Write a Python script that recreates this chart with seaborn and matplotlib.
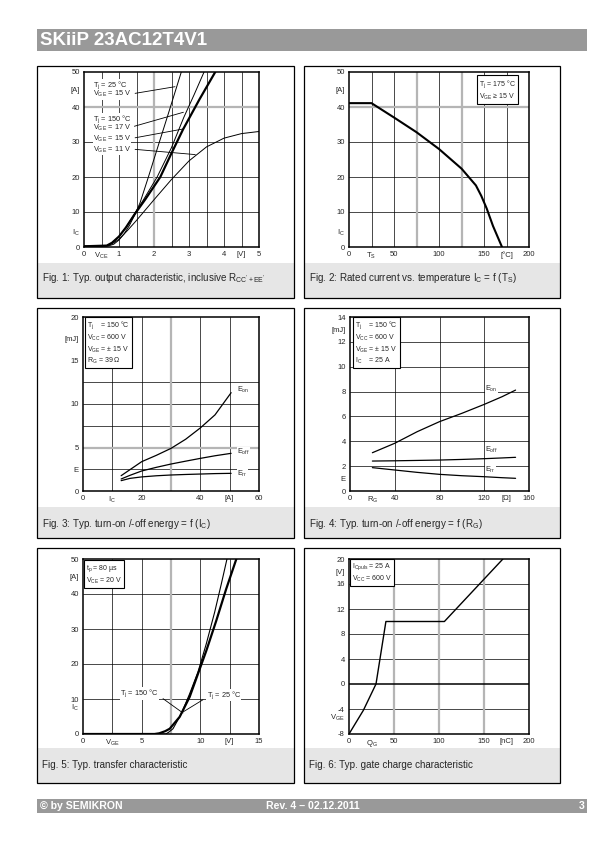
import matplotlib
matplotlib.use("Agg")
import matplotlib.pyplot as plt
from matplotlib.patches import Rectangle
import seaborn as sns

sns.set_style("white")
plt.rcParams['font.family'] = ['Liberation Sans', 'DejaVu Sans']
plt.rcParams['mathtext.fontset'] = 'custom'
plt.rcParams['mathtext.rm'] = 'Liberation Sans'
plt.rcParams['mathtext.it'] = 'Liberation Sans:italic'
plt.rcParams['mathtext.default'] = 'regular'

# Fig 1: output characteristic (V_CE [V] vs I_C [A])
v25_15 = [0, 0.7, 0.85, 1.0, 1.15, 1.3, 1.45, 1.6, 1.84, 2.1, 2.4, 2.78]
i25_15 = [0.2, 0.3, 0.8, 2.0, 3.8, 6.2, 9.2, 12.6, 20.0, 28.3, 37.8, 50]
v150_17 = [0, 0.65, 0.8, 1.0, 1.2, 1.45, 1.7, 2.09, 2.5, 2.85, 3.15, 3.43]
i150_17 = [0.2, 0.4, 1.2, 3.0, 5.6, 9.6, 13.5, 20.0, 28.4, 37.0, 43.6, 50]
v150_15 = [0, 0.65, 0.8, 1.0, 1.2, 1.45, 1.75, 2.18, 2.5, 2.83, 3.3, 3.75]
i150_15 = [0.2, 0.4, 1.2, 3.0, 5.6, 9.4, 13.6, 20.0, 26.8, 33.6, 42.2, 50]
v150_11 = [0, 0.65, 0.8, 1.0, 1.25, 1.5, 2.0, 2.5, 3.0, 3.5, 4.0, 4.5, 5.0]
i150_11 = [0.2, 0.4, 0.9, 2.2, 4.8, 7.6, 13.5, 19.3, 24.6, 28.6, 31.1, 32.4, 33.0]

# Fig 2: rated current vs. temperature
ts = [0, 25, 50, 75, 100, 125, 135, 141, 147, 153, 160, 170]
ic_ts = [41.1, 41.1, 37.0, 32.8, 28.0, 22.4, 19.4, 17.6, 14.6, 11.0, 6.0, 0]

# Fig 3: switching energy vs I_C
ic3 = [13, 16, 20, 25, 30, 35, 40, 45, 50.5]
eon3 = [1.76, 2.45, 3.37, 4.1, 4.9, 5.95, 7.25, 8.75, 11.3]
eoff3 = [1.38, 1.8, 2.3, 2.72, 3.1, 3.43, 3.75, 4.05, 4.33]
err3 = [1.19, 1.45, 1.62, 1.75, 1.84, 1.9, 1.95, 2.0, 2.03]

# Fig 4: switching energy vs R_G
rg4 = [20, 40, 60, 80, 100, 120, 136, 148]
eon4 = [3.08, 3.84, 4.77, 5.58, 6.25, 6.97, 7.59, 8.12]
eoff4 = [2.41, 2.43, 2.46, 2.49, 2.54, 2.6, 2.66, 2.71]
err4 = [1.88, 1.69, 1.5, 1.34, 1.23, 1.15, 1.07, 1.02]

# Fig 5: transfer characteristic
vge150 = [0, 6.1, 6.5, 7.0, 7.39, 8.24, 9.09, 9.8, 10.51, 11.36, 12.2, 13.07]
ic150 = [0, 0, 0.2, 0.8, 1.5, 4.9, 10.6, 17.2, 23.8, 32.4, 41.4, 50]
vge25 = [0, 7.05, 7.3, 7.67, 8.38, 9.09, 9.8, 10.51, 11.22, 11.79, 12.27]
ic25 = [0, 0, 0.5, 1.5, 5.8, 11.5, 17.7, 25.8, 34.8, 42.9, 50]

# Fig 6: gate charge
qg = [0, 16, 30, 41, 106, 171]
vg = [-8, -4.2, 0, 10, 10, 20]

captions = [
    "Fig. 1: Typ. output characteristic, inclusive R$_{CC'+ EE'}$",
    "Fig. 2: Rated current vs. temperature I$_C$ = f (T$_S$)",
    "Fig. 3: Typ. turn-on /-off energy = f (I$_C$)",
    "Fig. 4: Typ. turn-on /-off energy = f (R$_G$)",
    "Fig. 5: Typ. transfer characteristic",
    "Fig. 6: Typ. gate charge characteristic",
]

W, H = 595, 842
fig = plt.figure(figsize=(W / 100, H / 100), dpi=100)


def box(x0, y0, x1, y1):
    return [x0 / W, 1 - y1 / H, (x1 - x0) / W, (y1 - y0) / H]


def rect(x0, y0, x1, y1, **kw):
    fig.add_artist(Rectangle((x0 / W, 1 - y1 / H), (x1 - x0) / W, (y1 - y0) / H,
                             transform=fig.transFigure, **kw))


def ftext(x, y, s, **kw):
    fig.text(x / W, 1 - y / H, s, **kw)


# header / footer
rect(37, 29, 587, 51, color='#999999', lw=0)
ftext(40, 40.5, "SKiiP 23AC12T4V1", color='white', fontsize=13.5, fontweight='bold', va='center')
rect(37, 799, 587, 813, color='#999999', lw=0)
ftext(40, 806, "© by SEMIKRON", color='white', fontsize=7.6, fontweight='bold', va='center')
ftext(313, 806, "Rev. 4 – 02.12.2011", color='white', fontsize=7.6, fontweight='bold', va='center', ha='center')
ftext(585, 806, "3", color='white', fontsize=7.6, fontweight='bold', va='center', ha='right')

# panel frames
frames = [(37, 66, 294, 298, 263, 278), (304, 66, 560, 298, 263, 278),
          (37, 308, 294, 538, 507, 524), (304, 308, 560, 538, 507, 524),
          (37, 548, 294, 783, 748, 765), (304, 548, 560, 783, 748, 765)]
for (x0, y0, x1, y1, yc, yt), cap in zip(frames, captions):
    rect(x0, yc, x1, y1, color='#e6e6e6', lw=0)
    rect(x0, y0, x1, y1, fill=False, ec='black', lw=0.9)
    ftext(x0 + 5, yt, cap, fontsize=7.1, va='center')


def setup(ax, xlim, ylim, xt, xl, yt, yl, gx, gy, hx=(), hy=()):
    ax.set_xlabel('')
    ax.set_ylabel('')
    ax.set_xlim(xlim)
    ax.set_ylim(ylim)
    ax.xaxis.remove_overlapping_locs = False
    ax.yaxis.remove_overlapping_locs = False
    ax.set_xticks(xt, xl)
    ax.set_yticks(yt, yl)
    ax.set_xticks(gx, minor=True)
    ax.set_yticks(gy, minor=True)
    ax.tick_params(which='both', length=0, labelsize=5.5, pad=3)
    ax.grid(False)
    ax.grid(which='minor', color='black', lw=0.5)
    for v in hx:
        ax.axvline(v, color='#b5b5b5', lw=1.6, zorder=1.6)
    for v in hy:
        ax.axhline(v, color='#b5b5b5', lw=1.6, zorder=1.6)
    for s in ax.spines.values():
        s.set_linewidth(1.1)
        s.set_color('black')
        s.set_zorder(5)


def curve(ax, x, y, lw):
    sns.lineplot(x=x, y=y, ax=ax, color='black', linewidth=lw, sort=False,
                 estimator=None, legend=False, zorder=3)


def infobox(ax, x, y, s):
    ax.text(x, y, s, transform=ax.transAxes, fontsize=5, va='top', ha='left', linespacing=1.2,
            zorder=6, bbox=dict(boxstyle='square,pad=0.3', fc='white', ec='black', lw=0.8))


def label(ax, x, y, s, ha='left', size=5.3):
    ax.text(x, y, s, fontsize=size, va='center', ha=ha, zorder=4,
            bbox=dict(boxstyle='square,pad=0.03', fc='white', ec='none'))


def pointer(ax, p0, p1):
    ax.annotate('', xy=p1, xytext=p0, arrowprops=dict(arrowstyle='-', color='black', lw=0.6,
                                                     shrinkA=0, shrinkB=0), zorder=4)


# ---- Fig 1
ax1 = fig.add_axes(box(84, 72, 259, 247))
curve(ax1, v150_11, i150_11, 0.7)
curve(ax1, v150_17, i150_17, 0.7)
curve(ax1, v25_15, i25_15, 0.7)
curve(ax1, v150_15, i150_15, 1.6)
setup(ax1, (0, 5), (0, 50),
      [0, 0.5, 1, 2, 3, 4, 4.5, 5], ['0', 'V$_{CE}$', '1', '2', '3', '4', '[V]', '5'],
      [0, 4.5, 10, 20, 30, 40, 45, 50], ['0', 'I$_C$', '10', '20', '30', '40', '[A]', '50'],
      [0.5, 1, 1.5, 2, 2.5, 3, 3.5, 4, 4.5], [10, 20, 30, 40], hx=[2], hy=[40])
label(ax1, 0.25, 46.3, "T$_j$ = 25 °C")
label(ax1, 0.25, 43.6, "V$_{GE}$ = 15 V")
label(ax1, 0.25, 36.6, "T$_j$ = 150 °C")
label(ax1, 0.25, 33.9, "V$_{GE}$ = 17 V")
label(ax1, 0.25, 30.8, "V$_{GE}$ = 15 V")
label(ax1, 0.25, 27.7, "V$_{GE}$ = 11 V")
pointer(ax1, (1.46, 43.9), (2.6, 45.8))
pointer(ax1, (1.44, 34.5), (2.84, 38.5))
pointer(ax1, (1.46, 31.2), (2.82, 33.7))
pointer(ax1, (1.46, 27.9), (3.18, 26.4))

# ---- Fig 2
ax2 = fig.add_axes(box(349, 72, 529, 247))
curve(ax2, ts, ic_ts, 1.5)
setup(ax2, (0, 200), (0, 50),
      [0, 25, 50, 100, 150, 175, 200], ['0', 'T$_S$', '50', '100', '150', '[°C]', '200'],
      [0, 4.5, 10, 20, 30, 40, 45, 50], ['0', 'I$_C$', '10', '20', '30', '40', '[A]', '50'],
      [25, 50, 75, 100, 125, 150, 175], [10, 20, 30, 40], hx=[75, 125], hy=[40])
infobox(ax2, 0.72, 0.965, "T$_j$ = 175 °C\nV$_{GE}$ ≥ 15 V")

# ---- Fig 3
ax3 = fig.add_axes(box(83, 317, 259, 491))
curve(ax3, ic3, eon3, 0.9)
curve(ax3, ic3, eoff3, 0.9)
curve(ax3, ic3, err3, 0.9)
setup(ax3, (0, 60), (0, 20),
      [0, 10, 20, 40, 50, 60], ['0', 'I$_C$', '20', '40', '[A]', '60'],
      [0, 2.5, 5, 10, 15, 17.5, 20], ['0', 'E', '5', '10', '15', '[mJ]', '20'],
      [10, 20, 30, 40, 50], [2.5, 5, 7.5, 10, 12.5], hx=[30], hy=[5])
infobox(ax3, 0.025, 0.985, "T$_j$    = 150 °C\nV$_{CC}$ = 600 V\nV$_{GE}$ = ± 15 V\nR$_G$ = 39 Ω")
label(ax3, 52.5, 11.6, "E$_{on}$")
label(ax3, 52.5, 4.5, "E$_{off}$")
label(ax3, 52.5, 1.95, "E$_{rr}$")

# ---- Fig 4
ax4 = fig.add_axes(box(350, 317, 529, 491))
curve(ax4, rg4, eon4, 0.9)
curve(ax4, rg4, eoff4, 0.9)
curve(ax4, rg4, err4, 0.9)
setup(ax4, (0, 160), (0, 14),
      [0, 20, 40, 80, 120, 140, 160], ['0', 'R$_G$', '40', '80', '120', '[Ω]', '160'],
      [0, 1, 2, 4, 6, 8, 10, 12, 13, 14], ['0', 'E', '2', '4', '6', '8', '10', '12', '[mJ]', '14'],
      [40, 80, 120], [2, 4, 6, 8, 10, 12])
infobox(ax4, 0.03, 0.985, "T$_j$    = 150 °C\nV$_{CC}$ = 600 V\nV$_{GE}$ = ± 15 V\nI$_C$    = 25 A")
label(ax4, 121, 8.2, "E$_{on}$")
label(ax4, 121, 3.3, "E$_{off}$")
label(ax4, 121, 1.7, "E$_{rr}$")

# ---- Fig 5
ax5 = fig.add_axes(box(83, 559, 259, 734))
curve(ax5, vge25, ic25, 0.8)
curve(ax5, vge150, ic150, 1.6)
setup(ax5, (0, 15), (0, 50),
      [0, 2.5, 5, 10, 12.5, 15], ['0', 'V$_{GE}$', '5', '10', '[V]', '15'],
      [0, 7.8, 10, 20, 30, 40, 45, 50], ['0', 'I$_C$', '10', '20', '30', '40', '[A]', '50'],
      [2.5, 5, 7.5, 10, 12.5], [10, 20, 30, 40], hx=[7.5])
infobox(ax5, 0.015, 0.975, "t$_p$ = 80 µs\nV$_{CE}$ = 20 V")
label(ax5, 4.8, 11.6, "T$_j$ = 150 °C", ha='center')
label(ax5, 12.0, 11.05, "T$_j$ = 25 °C", ha='center')
pointer(ax5, (6.82, 10.1), (8.52, 6.0))
pointer(ax5, (10.23, 9.8), (8.38, 6.0))

# ---- Fig 6
ax6 = fig.add_axes(box(349, 559, 529, 734))
curve(ax6, qg, vg, 1.0)
setup(ax6, (0, 200), (-8, 20),
      [0, 25, 50, 100, 150, 175, 200], ['0', 'Q$_G$', '50', '100', '150', '[nC]', '200'],
      [-8, -5.2, -4, 0, 4, 8, 12, 16, 18, 20],
      ['-8', 'V$_{GE}$', '-4', '0', '4', '8', '12', '16', '[V]', '20'],
      [50, 100, 150], [-4, 4, 8, 12, 16], hx=[50, 100, 150])
ax6.axhline(0, color='black', lw=1.1, zorder=2)
infobox(ax6, 0.015, 0.985, "I$_{Cpuls}$ = 25 A\nV$_{CC}$ = 600 V")

fig.savefig("out.png", dpi=100)
